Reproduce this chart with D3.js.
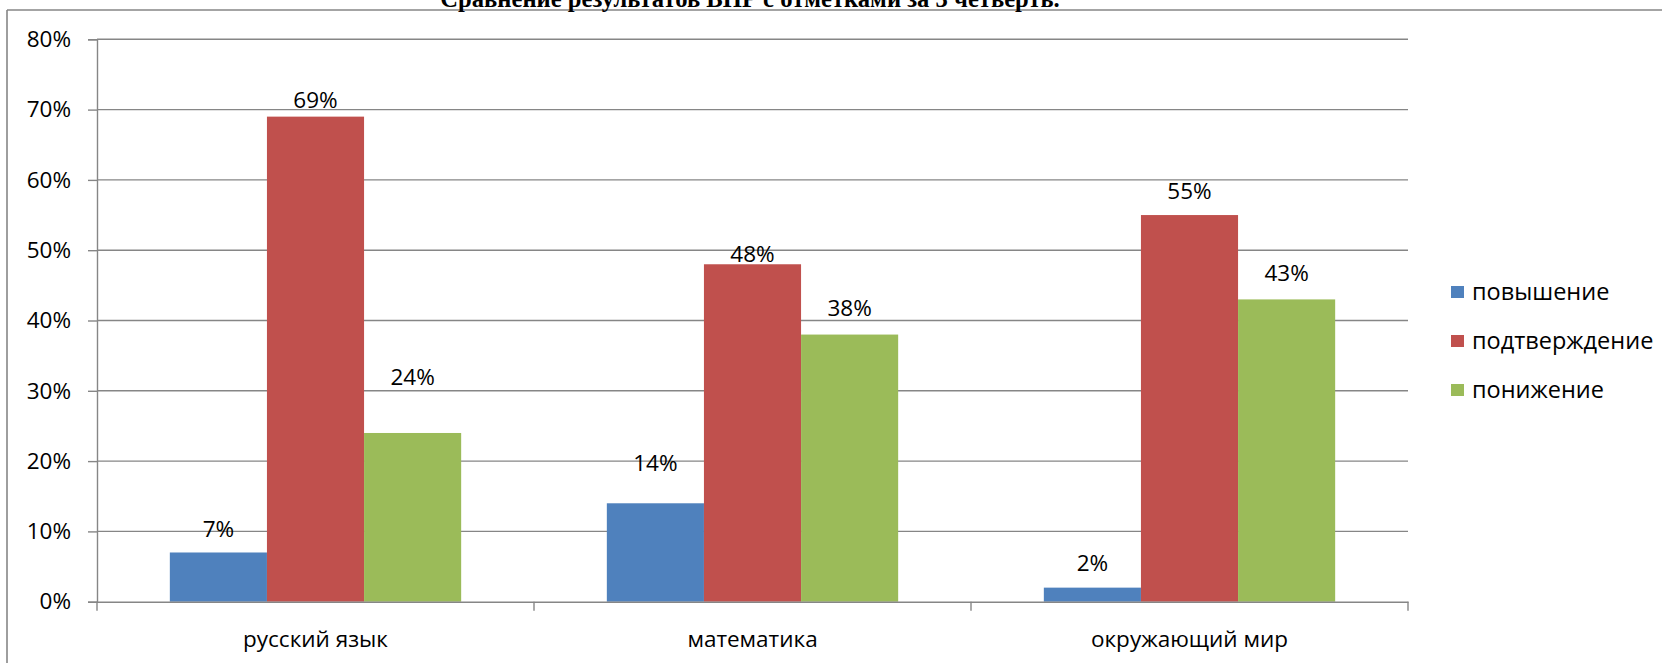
<!DOCTYPE html>
<html><head><meta charset="utf-8">
<script src="https://cdn.jsdelivr.net/npm/d3@7"></script>
<style>body{margin:0;background:#fff;} svg{display:block;}</style>
</head><body>
<svg id="chart" width="1662" height="663"></svg>
<script>
// ---- data ----
const categories = ["русский язык", "математика", "окружающий мир"];
const seriesNames = ["повышение", "подтверждение", "понижение"];
const povyshenie = [0.07, 0.14, 0.02];
const podtverzhdenie = [0.69, 0.48, 0.55];
const ponizhenie = [0.24, 0.38, 0.43];
const yTicks = [0, 0.1, 0.2, 0.3, 0.4, 0.5, 0.6, 0.7, 0.8];
const titleText = "Сравнение результатов ВПР с отметками за 3 четверть.";

// ---- layout / style ----
const seriesValues = [povyshenie, podtverzhdenie, ponizhenie];
const colors = ["#4F81BD", "#C0504D", "#9BBB59"];
// manual data-label lift above bar top (px), [category][series]
const labelLift = [[15, 9, 48], [32, 2, 19], [17, 16, 18]];
const font = "'Open Sans', 'Noto Sans', sans-serif";
const fs = 22.5;
const gridColor = "#868686";
const plot = {left: 97, right: 1408, top: 39.3, bottom: 601.7};

const svg = d3.select("#chart");

// outer frame lines
svg.append("line").attr("x1", 7).attr("x2", 1662).attr("y1", 10).attr("y2", 10)
  .attr("stroke", gridColor).attr("stroke-width", 1.6);
svg.append("line").attr("x1", 7).attr("x2", 7).attr("y1", 10).attr("y2", 663)
  .attr("stroke", gridColor).attr("stroke-width", 1.6);

// title (cropped at top)
const title = svg.append("text").attr("x", 750).attr("y", 7)
  .attr("text-anchor", "middle").attr("font-family", "'Liberation Serif', serif")
  .attr("font-weight", "bold").attr("font-size", 28).attr("fill", "#000").text(titleText);
const tw = title.node().getComputedTextLength();
title.attr("font-size", 28 * 620 / tw);

const y = d3.scaleLinear().domain([0, 0.8]).range([plot.bottom, plot.top]);
const x0 = d3.scaleBand().domain(categories).range([plot.left, plot.right]).padding(0);
const bw = x0.bandwidth();
const outer = bw * 0.75 / 4.5;
const x1 = d3.scaleBand().domain(seriesNames).range([outer, bw - outer]).padding(0);

// gridlines
svg.append("g").selectAll("line").data(yTicks.filter(d => d > 0)).join("line")
  .attr("x1", plot.left).attr("x2", plot.right)
  .attr("y1", d => y(d)).attr("y2", d => y(d))
  .attr("stroke", gridColor).attr("stroke-width", 1.4);

// y axis
const yAxis = d3.axisLeft(y).tickValues(yTicks).tickFormat(d3.format(".0%")).tickSize(9).tickPadding(17);
const gy = svg.append("g").attr("transform", `translate(${plot.left},0)`).call(yAxis);
gy.select(".domain").attr("stroke", gridColor).attr("stroke-width", 1.4);
gy.selectAll(".tick line").attr("stroke", gridColor).attr("stroke-width", 1.4);
gy.selectAll(".tick text").attr("font-family", font).attr("font-size", fs).attr("fill", "#000");

// bars
const groups = svg.append("g").selectAll("g").data(categories).join("g")
  .attr("transform", d => `translate(${x0(d)},0)`);
groups.selectAll("rect").data((c, ci) => seriesNames.map((s, si) => ({s, si, ci, v: seriesValues[si][ci]})))
  .join("rect")
  .attr("x", d => x1(d.s)).attr("width", x1.bandwidth())
  .attr("y", d => y(d.v)).attr("height", d => y(0) - y(d.v))
  .attr("fill", d => colors[d.si]);

// x axis
const xAxis = d3.axisBottom(x0).tickSize(0).tickPadding(29);
const gx = svg.append("g").attr("transform", `translate(0,${plot.bottom})`).call(xAxis);
gx.select(".domain").attr("stroke", gridColor).attr("stroke-width", 1.4);
gx.selectAll(".tick text").attr("font-family", font).attr("font-size", fs).attr("fill", "#000");
// category boundary ticks
const bounds = categories.map(c => x0(c)).concat([x0(categories[categories.length - 1]) + bw]);
svg.append("g").selectAll("line").data(bounds).join("line")
  .attr("x1", d => d).attr("x2", d => d).attr("y1", plot.bottom).attr("y2", plot.bottom + 9)
  .attr("stroke", gridColor).attr("stroke-width", 1.4);

// data labels
groups.selectAll("text.lbl").data((c, ci) => seriesNames.map((s, si) => ({s, si, ci, v: seriesValues[si][ci]})))
  .join("text").attr("class", "lbl")
  .attr("x", d => x1(d.s) + x1.bandwidth() / 2)
  .attr("y", d => y(d.v) - labelLift[d.ci][d.si])
  .attr("text-anchor", "middle").attr("font-family", font).attr("font-size", fs).attr("fill", "#000")
  .text(d => d3.format(".0%")(d.v));

// legend
const lg = svg.append("g").attr("transform", "translate(1451,292)");
const items = lg.selectAll("g").data(seriesNames).join("g")
  .attr("transform", (d, i) => `translate(0,${i * 49})`);
items.append("rect").attr("x", 0).attr("y", -6).attr("width", 13).attr("height", 12)
  .attr("fill", (d, i) => colors[i]);
items.append("text").attr("x", 21).attr("y", 0).attr("dy", "0.35em")
  .attr("font-family", font).attr("font-size", 23.5).attr("fill", "#000").text(d => d);
</script>
</body></html>
